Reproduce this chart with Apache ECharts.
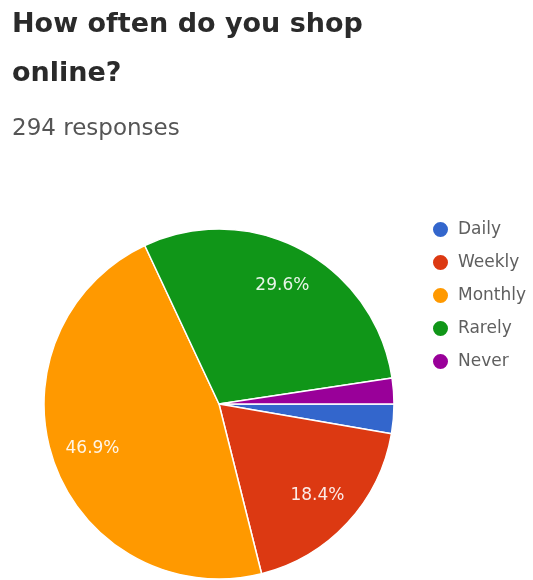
<!DOCTYPE html>
<html>
<head>
<meta charset="utf-8">
<script src="https://cdn.jsdelivr.net/npm/echarts@6/dist/echarts.min.js"></script>
<style>
  html, body { margin: 0; padding: 0; background: #fff; }
  #chart { width: 533px; height: 580px; }
</style>
</head>
<body>
<div id="chart"></div>
<script>
// Survey answers: "How often do you shop online?"
const categories = ['Daily', 'Weekly', 'Monthly', 'Rarely', 'Never'];
const counts = [8, 54, 138, 87, 7];
const colors = ['#3366cc', '#dc3912', '#ff9900', '#109618', '#990099'];
const totalResponses = 294;

const pieData = categories.map((name, i) => ({ name: name, value: counts[i] }));
const total = counts.reduce((a, b) => a + b, 0);

const center = [219, 404];
const R = 175;

const chart = echarts.init(document.getElementById('chart'), null, { renderer: 'canvas' });

chart.setOption({
  animation: false,
  color: colors,
  title: [
    {
      text: 'How often do you shop\nonline?',
      left: 12,
      top: 0,
      padding: 0,
      textStyle: {
        fontFamily: 'DejaVu Sans',
        fontWeight: 'bold',
        fontSize: 27,
        lineHeight: 49,
        color: '#2a2a2a'
      }
    },
    {
      text: totalResponses + ' responses',
      left: 12,
      top: 118,
      padding: 0,
      textStyle: {
        fontFamily: 'DejaVu Sans',
        fontWeight: 'normal',
        fontSize: 23,
        lineHeight: 23,
        color: '#555'
      }
    }
  ],
  legend: {
    orient: 'vertical',
    left: 426,
    top: 215,
    icon: 'circle',
    itemWidth: 17,
    itemHeight: 17,
    itemGap: 14,
    selectedMode: false,
    data: categories.map((name, i) => ({ name: name, itemStyle: { color: colors[i] } })),
    textStyle: {
      fontFamily: 'DejaVu Sans',
      fontSize: 17,
      lineHeight: 17,
      color: '#5f5f5f',
      padding: [0, 0, 0, 4]
    }
  },
  series: [
    {
      // slices
      type: 'pie',
      center: center,
      radius: [0, R],
      startAngle: 0,
      clockwise: true,
      silent: true,
      label: { show: false },
      labelLine: { show: false },
      itemStyle: { borderColor: '#fff', borderWidth: 1.5 },
      data: pieData
    },
    {
      // transparent ring that carries the percentage labels
      type: 'pie',
      center: center,
      radius: [R * 0.5, R],
      startAngle: 0,
      clockwise: true,
      silent: true,
      itemStyle: { color: 'transparent', borderWidth: 0 },
      labelLine: { show: false },
      label: {
        show: true,
        position: 'inside',
        fontFamily: 'DejaVu Sans',
        fontSize: 17,
        color: 'rgba(255,255,255,0.9)',
        formatter: (p) => {
          const pct = p.value / total * 100;
          return pct >= 5 ? pct.toFixed(1) + '%' : '';
        }
      },
      data: pieData
    }
  ]
});
</script>
</body>
</html>
